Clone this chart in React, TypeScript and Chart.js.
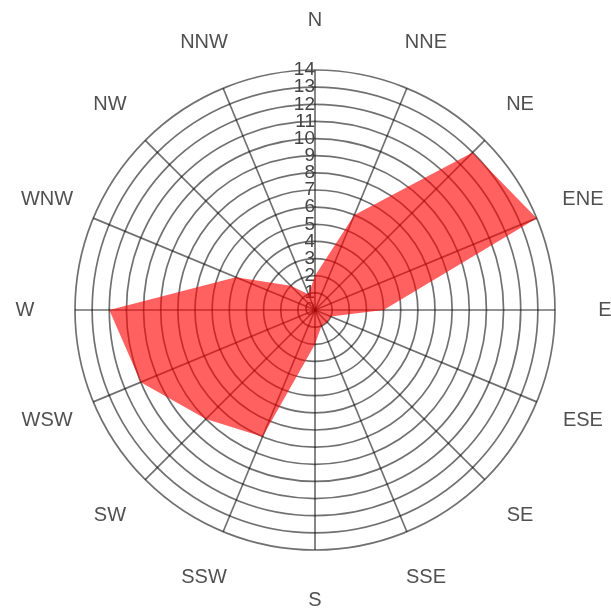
import React, { useEffect, useRef } from 'react';
import { Chart, registerables } from 'chart.js';

Chart.register(...registerables);

const directions = ['N', 'NNE', 'NE', 'ENE', 'E', 'ESE', 'SE', 'SSE', 'S', 'SSW', 'SW', 'WSW', 'W', 'WNW', 'NW', 'NNW'];
const frequencies = [2, 6, 13, 14, 4, 1, 1, 1, 2, 8, 9, 11, 12, 5, 2, 1];
const tickValues = [0, 1, 2, 3, 4, 5, 6, 7, 8, 9, 10, 11, 12, 13, 14];
const scaleMin = 0;
const scaleMax = 14;

const FONT = "'Liberation Sans', Arial, Helvetica, sans-serif";

const radialLabelsPlugin = {
  id: 'radialLabels',
  beforeDatasetsDraw(chart: any) {
    const scale = chart.scales.r;
    const ctx = chart.ctx;
    ctx.save();
    ctx.font = `19px ${FONT}`;
    ctx.fillStyle = '#444';
    ctx.textAlign = 'right';
    ctx.textBaseline = 'middle';
    tickValues.forEach((v) => {
      const d = scale.getDistanceFromCenterForValue(v);
      ctx.fillText(String(v), scale.xCenter, scale.yCenter - d);
    });
    ctx.restore();
  },
  afterDraw(chart: any) {
    const scale = chart.scales.r;
    const ctx = chart.ctx;
    ctx.save();
    ctx.font = `20px ${FONT}`;
    ctx.fillStyle = '#505050';
    ctx.textAlign = 'center';
    ctx.textBaseline = 'middle';
    directions.forEach((label, i) => {
      const p = scale.getPointPosition(i, scale.drawingArea + 50);
      ctx.fillText(label, p.x, p.y);
    });
    ctx.restore();
  },
};

export default function App() {
  const canvasRef = useRef<HTMLCanvasElement | null>(null);

  useEffect(() => {
    const canvas = canvasRef.current;
    if (!canvas) return;
    const chart = new Chart(canvas, {
      type: 'radar',
      data: {
        labels: directions,
        datasets: [
          {
            data: frequencies,
            backgroundColor: 'rgba(255, 0, 0, 0.62)',
            borderColor: 'rgba(0, 0, 0, 0)',
            borderWidth: 0,
            pointRadius: 0,
            pointHoverRadius: 0,
            fill: true,
          },
        ],
      },
      options: {
        responsive: false,
        animation: false,
        layout: { padding: { left: 75, right: 56, top: 70, bottom: 59 } },
        plugins: {
          legend: { display: false },
          tooltip: { enabled: false },
        },
        scales: {
          r: {
            min: scaleMin,
            max: scaleMax,
            ticks: { stepSize: 1, display: false },
            grid: { circular: true, color: 'rgba(0, 0, 0, 0.56)', lineWidth: 1.7 },
            angleLines: { display: true, color: 'rgba(0, 0, 0, 0.56)', lineWidth: 1.7 },
            pointLabels: { display: false },
          },
        },
      },
      plugins: [radialLabelsPlugin],
    });
    return () => chart.destroy();
  }, []);

  return (
    <div style={{ position: 'absolute', left: 0, top: 0, width: 611, height: 609, overflow: 'hidden' }}>
      <canvas ref={canvasRef} width={611} height={609} style={{ display: 'block', width: 611, height: 609 }} />
    </div>
  );
}
